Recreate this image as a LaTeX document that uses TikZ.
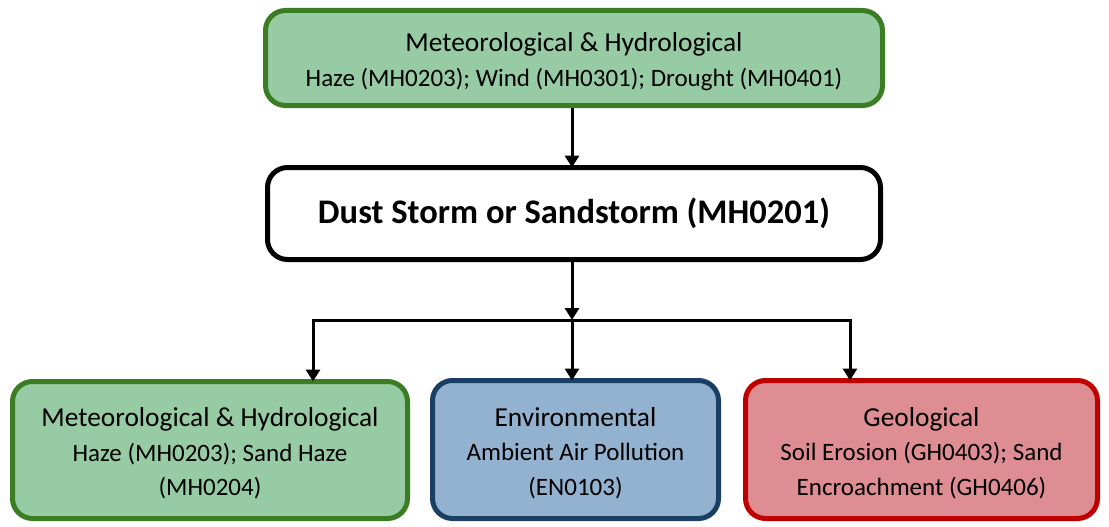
\documentclass[tikz,border=0pt]{standalone}
\usepackage{fontspec}
\setmainfont{Carlito}
\usetikzlibrary{arrows.meta}
\definecolor{gfill}{HTML}{97CBA4}
\definecolor{gline}{HTML}{3B7D23}
\definecolor{bfill}{HTML}{93B2CF}
\definecolor{bline}{HTML}{1B3F64}
\definecolor{rfill}{HTML}{DE8D93}
\definecolor{rline}{HTML}{C00000}
\newcommand{\ttlsize}{\fontsize{27.4}{34}\selectfont\rule{0pt}{26pt}}
\tikzset{
  box/.style={draw, line width=5pt, rounded corners=20pt, align=center, inner sep=0pt, text=black},
  txtfont/.style={font=\fontsize{25}{34.5}\selectfont},
  conn/.style={draw=black, line width=3pt},
  arr/.style={conn, -{Triangle[length=12pt,width=14pt]}},
}
\begin{document}
\begin{tikzpicture}[x=1pt,y=-1pt]
\useasboundingbox (0,0) rectangle (1109,527);
\node[box, txtfont, fill=gfill, draw=gline, minimum width=617pt, minimum height=95pt] (top) at (574,58)
  {\ttlsize Meteorological \& Hydrological\\Haze (MH0203); Wind (MH0301); Drought (MH0401)};
\node[box, fill=white, draw=black, minimum width=613pt, minimum height=92pt, font=\fontsize{34.5}{40}\selectfont\bfseries] (mid) at (574,213.5)
  {Dust Storm or Sandstorm (MH0201)};
\node[box, txtfont, fill=gfill, draw=gline, minimum width=395pt, minimum height=137pt] (left) at (210,450)
  {\ttlsize Meteorological \& Hydrological\\Haze (MH0203); Sand Haze\\(MH0204)};
\node[box, txtfont, fill=bfill, draw=bline, minimum width=286pt, minimum height=138pt] (cen) at (575.5,449.5)
  {\ttlsize Environmental\\Ambient Air Pollution\\(EN0103)};
\node[box, txtfont, fill=rfill, draw=rline, minimum width=352pt, minimum height=138pt] (right) at (921.5,449.5)
  {\ttlsize Geological\\Soil Erosion (GH0403); Sand\\Encroachment (GH0406)};
\coordinate (bus) at (572,320);
\coordinate (busL) at (313,320);
\coordinate (busR) at (850,320);
\draw[arr] (top.south -| bus) -- ([yshift=-2.5pt]mid.north -| bus);
\draw[arr] ([yshift=2.5pt]mid.south -| bus) -- (bus);
\draw[conn] ([xshift=-1.5pt]busL) -- ([xshift=1.5pt]busR);
\draw[arr] (busL) -- ([yshift=-2.5pt]left.north -| busL);
\draw[arr] (bus) -- ([yshift=-2.5pt]cen.north -| bus);
\draw[arr] (busR) -- ([yshift=-2.5pt]right.north -| busR);
\end{tikzpicture}
\end{document}
